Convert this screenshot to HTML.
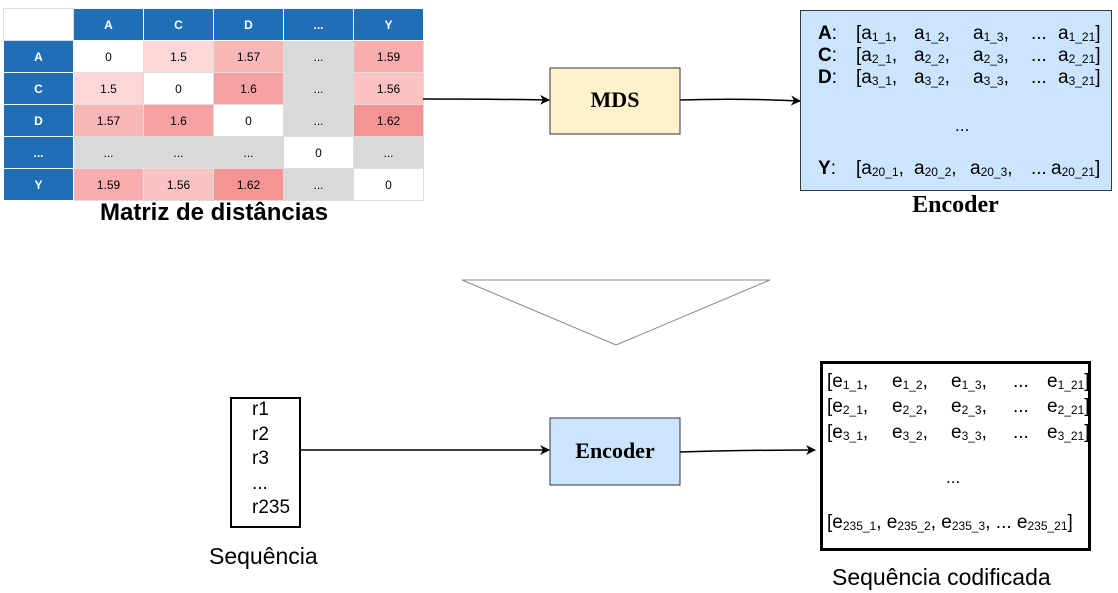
<!DOCTYPE html>
<html><head><meta charset="utf-8"><style>
body{margin:0;width:1118px;height:593px;background:#fff;position:relative;font-family:"Liberation Sans",sans-serif;overflow:hidden}
table{position:absolute;left:3px;top:8px;border-collapse:collapse;font-size:12px;table-layout:fixed;width:420px}
td{width:69px;height:31px;border:1px solid #ddd;text-align:center;padding:0}
td.h{background:#1f6eb6;color:#fff;font-weight:bold;border-color:#fff}
td.g{background:#d9d9d9}
.abs{position:absolute;white-space:nowrap}
sub{font-size:12px;vertical-align:-2px}
.row{position:absolute;font-size:19px;white-space:nowrap}
.row span{position:absolute}
</style></head><body>
<table>
<tr><td style="border-color:#ddd"></td><td class="h">A</td><td class="h">C</td><td class="h">D</td><td class="h">...</td><td class="h">Y</td></tr>
<tr><td class="h">A</td><td>0</td><td style="background:#fdd7d7">1.5</td><td style="background:#f9b6b6">1.57</td><td class="g">...</td><td style="background:#f8aeae">1.59</td></tr>
<tr><td class="h">C</td><td style="background:#fdd7d7">1.5</td><td>0</td><td style="background:#f7a2a2">1.6</td><td class="g">...</td><td style="background:#fbc2c2">1.56</td></tr>
<tr><td class="h">D</td><td style="background:#f9b6b6">1.57</td><td style="background:#f7a2a2">1.6</td><td>0</td><td class="g">...</td><td style="background:#f59494">1.62</td></tr>
<tr><td class="h">...</td><td class="g">...</td><td class="g">...</td><td class="g">...</td><td>0</td><td class="g">...</td></tr>
<tr><td class="h">Y</td><td style="background:#f8aeae">1.59</td><td style="background:#fbc2c2">1.56</td><td style="background:#f59494">1.62</td><td class="g">...</td><td>0</td></tr>
</table>
<div class="abs" style="left:100px;top:199px;font-size:24px;font-weight:bold">Matriz de distâncias</div>

<svg class="abs" style="left:0;top:0" width="1118" height="593">
<defs><marker id="a" markerWidth="10" markerHeight="10" refX="9" refY="5" orient="auto" markerUnits="userSpaceOnUse"><path d="M0,0 L10,5 L0,10 L3,5z" fill="#000"/></marker></defs>
<path d="M423,99 Q490,99 549,100" stroke="#000" stroke-width="1.5" fill="none" marker-end="url(#a)"/>
<path d="M680,100 Q740,98 800,101" stroke="#000" stroke-width="1.5" fill="none" marker-end="url(#a)"/>
<rect x="550" y="68" width="130" height="66" fill="#fff2cc" stroke="#333"/>
<rect x="800.5" y="10.5" width="311" height="180" fill="#cce5ff" stroke="#36393d"/>
<polygon points="462,280 770,280 616,345" fill="#fff" stroke="#888"/>
<rect x="231" y="398" width="69" height="129" fill="#fff" stroke="#000" stroke-width="2"/>
<path d="M300,450 L549,450" stroke="#000" stroke-width="1.5" fill="none" marker-end="url(#a)"/>
<rect x="550" y="418" width="130" height="67" fill="#cce5ff" stroke="#333"/>
<path d="M680,452 Q750,450 815,450" stroke="#000" stroke-width="1.5" fill="none" marker-end="url(#a)"/>
<rect x="821.5" y="362.5" width="268" height="187" fill="#fff" stroke="#000" stroke-width="3"/>
</svg>

<div class="abs" style="left:550px;top:87px;width:130px;text-align:center;font:bold 22px 'Liberation Serif',serif">MDS</div>
<div class="abs" style="left:550px;top:438px;width:130px;text-align:center;font:bold 22px 'Liberation Serif',serif">Encoder</div>
<div class="abs" style="left:800px;top:192px;width:311px;text-align:center;font:bold 24px 'Liberation Serif',serif">Encoder</div>

<div class="row" style="left:818px;top:23px"><span style="left:0"><b>A</b>:</span><span style="left:38px">[a<sub>1_1</sub>,</span><span style="left:96px">a<sub>1_2</sub>,</span><span style="left:155px">a<sub>1_3</sub>,</span><span style="left:213px">...</span><span style="left:240px">a<sub>1_21</sub>]</span></div>
<div class="row" style="left:818px;top:45px"><span style="left:0"><b>C</b>:</span><span style="left:38px">[a<sub>2_1</sub>,</span><span style="left:96px">a<sub>2_2</sub>,</span><span style="left:155px">a<sub>2_3</sub>,</span><span style="left:213px">...</span><span style="left:240px">a<sub>2_21</sub>]</span></div>
<div class="row" style="left:818px;top:67px"><span style="left:0"><b>D</b>:</span><span style="left:38px">[a<sub>3_1</sub>,</span><span style="left:96px">a<sub>3_2</sub>,</span><span style="left:155px">a<sub>3_3</sub>,</span><span style="left:213px">...</span><span style="left:240px">a<sub>3_21</sub>]</span></div>
<div class="abs" style="left:955px;top:116px;font-size:17px">...</div>
<div class="row" style="left:818px;top:158px"><span style="left:0"><b>Y</b>:</span><span style="left:38px">[a<sub>20_1</sub>,</span><span style="left:96px">a<sub>20_2</sub>,</span><span style="left:152px">a<sub>20_3</sub>,</span><span style="left:213px">...</span><span style="left:233px">a<sub>20_21</sub>]</span></div>

<div class="abs" style="left:252px;top:398px;font-size:19px;line-height:24.5px">r1<br>r2<br>r3<br>...<br>r235</div>
<div class="abs" style="left:209px;top:543px;font-size:23px">Sequência</div>

<div class="row" style="left:827px;top:371px"><span style="left:0">[e<sub>1_1</sub>,</span><span style="left:65px">e<sub>1_2</sub>,</span><span style="left:124px">e<sub>1_3</sub>,</span><span style="left:186px">...</span><span style="left:220px">e<sub>1_21</sub>]</span></div>
<div class="row" style="left:827px;top:396px"><span style="left:0">[e<sub>2_1</sub>,</span><span style="left:65px">e<sub>2_2</sub>,</span><span style="left:124px">e<sub>2_3</sub>,</span><span style="left:186px">...</span><span style="left:220px">e<sub>2_21</sub>]</span></div>
<div class="row" style="left:827px;top:422px"><span style="left:0">[e<sub>3_1</sub>,</span><span style="left:65px">e<sub>3_2</sub>,</span><span style="left:124px">e<sub>3_3</sub>,</span><span style="left:186px">...</span><span style="left:220px">e<sub>3_21</sub>]</span></div>
<div class="abs" style="left:946px;top:468px;font-size:17px">...</div>
<div class="row" style="left:827px;top:512px"><span style="left:0">[e<sub>235_1</sub>, e<sub>235_2</sub>, e<sub>235_3</sub>, ... e<sub>235_21</sub>]</span></div>
<div class="abs" style="left:832px;top:564px;font-size:23px">Sequência codificada</div>
</body></html>
